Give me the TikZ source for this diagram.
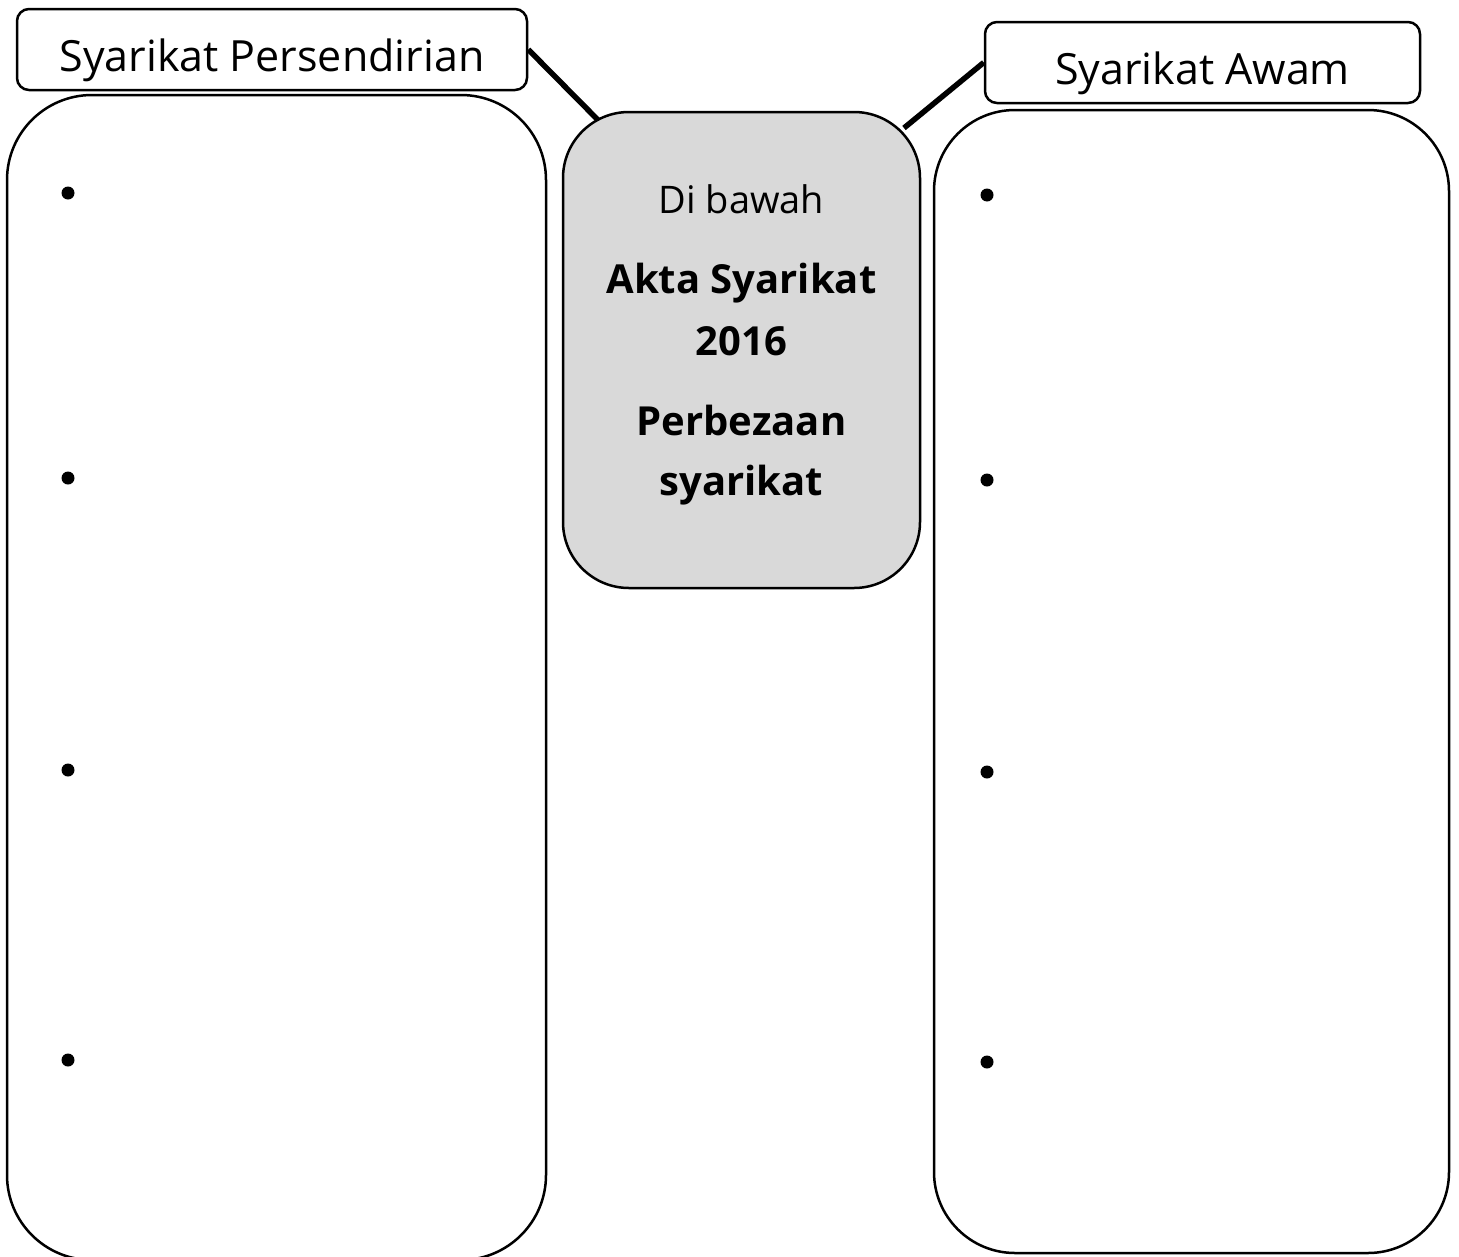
\documentclass[tikz,border=0pt]{standalone}
\usepackage{fontspec}
\setmainfont{Open Sans}
\begin{document}
\begin{tikzpicture}[x=1pt,y=-1pt,
  bigbox/.style={draw, line width=2.5pt, fill=white, inner sep=0pt},
  labelbox/.style={draw, line width=2.5pt, fill=white, rounded corners=12pt, inner sep=0pt, minimum height=81pt, text height=52pt, text depth=8pt, font=\fontsize{43}{50}\selectfont},
  midtext/.style={anchor=base, inner sep=0pt, font=\fontsize{38}{44}\selectfont},
  boldtext/.style={midtext, font=\fontsize{40}{46}\selectfont\bfseries},
  bullet/.style={circle, fill=black, inner sep=0pt, minimum size=13pt},
  link/.style={line width=5.5pt}]
\useasboundingbox (0,0) rectangle (1459,1256);
% big boxes
\node[bigbox, rounded corners=85pt, minimum width=539pt, minimum height=1165pt] (bl) at (276.5,677.5) {};
\node[bigbox, rounded corners=81pt, minimum width=515pt, minimum height=1143pt] (br) at (1191.5,681.5) {};
% labels
\node[labelbox, minimum width=510pt] (lp) at (272,49.5) {Syarikat Persendirian};
\node[labelbox, minimum width=435pt] (la) at (1202.5,62.5) {Syarikat Awam};
% connector ends
\coordinate (cl) at (600,122);
\coordinate (cr) at (904,128);
\draw[link] (lp.east) -- (cl);
\draw[link] (la.west) -- (cr);
% centre box
\node[bigbox, fill={rgb,255:red,217;green,217;blue,217}, rounded corners=66pt, minimum width=357pt, minimum height=476pt] (c) at (741.5,350) {};
\node[midtext] (t1) at (741.5,213) {Di bawah};
\node[boldtext] (t2) at (741.5,293) {Akta Syarikat};
\node[boldtext] (t3) at (741.5,355) {2016};
\node[boldtext] (t4) at (741.5,435) {Perbezaan};
\node[boldtext] (t5) at (741.5,495) {syarikat};
% bullets
\node[bullet] (b1) at (68,193) {};
\node[bullet] (b2) at (68,478) {};
\node[bullet] (b3) at (68,770) {};
\node[bullet] (b4) at (68,1060) {};
\node[bullet] (b5) at (987,195) {};
\node[bullet] (b6) at (987,480) {};
\node[bullet] (b7) at (987,772) {};
\node[bullet] (b8) at (987,1062) {};
\end{tikzpicture}
\end{document}
